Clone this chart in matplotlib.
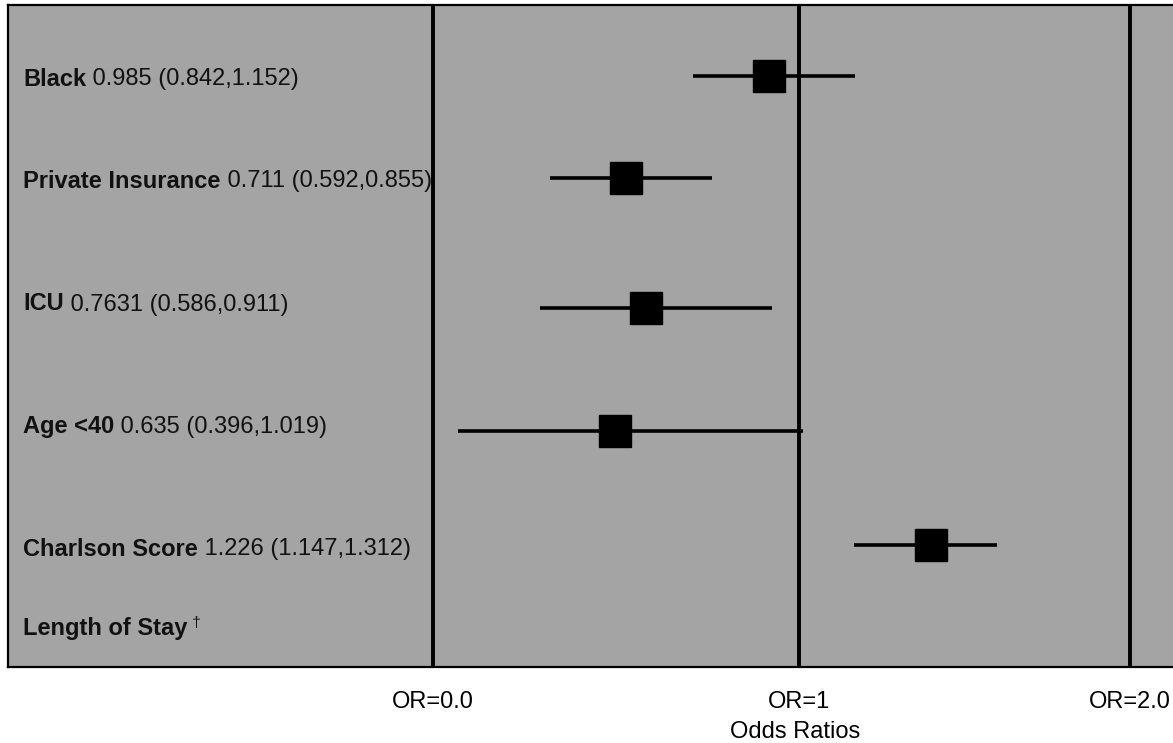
#!/usr/bin/env python3
"""Forest plot of odds ratios (scanned-figure recreation)."""
import numpy as np
import matplotlib
matplotlib.use("Agg")
import matplotlib.pyplot as plt  # noqa: E402

plt.rcParams["font.family"] = ["Liberation Sans", "DejaVu Sans"]

# row names and printed estimates, as written on the figure
names = ["Black", "Private Insurance", "ICU", "Age <40", "Charlson Score", "Length of Stay"]
printed = ["0.985 (0.842,1.152)", "0.711 (0.592,0.855)", "0.7631 (0.586,0.911)",
           "0.635 (0.396,1.019)", "1.226 (1.147,1.312)", ""]

# where the marks sit on the drawn axis
est = [0.918, 0.527, 0.582, 0.497, 1.399]
lo = [0.710, 0.320, 0.292, 0.068, 1.166]
hi = [1.169, 0.762, 0.926, 1.012, 1.598]

ref_lines = [0, 1, 2]
ref_labels = ["OR=0.0", "OR=1", "OR=2.0"]

# layout (vertical row positions, top to bottom)
ROW_Y = [0.76, 1.78, 3.08, 4.31, 5.45]
TEXT_Y = [0.79, 1.81, 3.04, 4.26, 5.49, 6.29]
BG = "#a4a4a4"
FS = 17


def _fwd(x):
    x = np.asarray(x, dtype=float)
    return np.where(x <= 1, x * 366.0, 366.0 + (x - 1) * 331.0)


def _inv(p):
    p = np.asarray(p, dtype=float)
    return np.where(p <= 366.0, p / 366.0, 1 + (p - 366.0) / 331.0)


fig = plt.figure(figsize=(11.73, 7.43), dpi=100)
ax = fig.add_axes([8 / 1173, 76 / 743, 1 - 8 / 1173, 662 / 743])
ax.set_facecolor(BG)
ax.set_xscale("function", functions=(_fwd, _inv))
ax.set_xlim(-1.161, 2.13)
ax.set_ylim(6.67, 0.05)

for x in ref_lines:
    ax.axvline(x, color="black", lw=2.8, zorder=2)

for y, m, a, b in zip(ROW_Y, est, lo, hi):
    ax.plot([a, b], [y, y], color="black", lw=2.6, solid_capstyle="butt", zorder=3)
    ax.plot(m, y, marker="s", ms=23, color="black", zorder=4)

tr = ax.get_yaxis_transform()
for name, txt, y in zip(names, printed, TEXT_Y):
    t1 = ax.text(0.013, y, name, transform=tr, fontsize=FS, fontweight="bold",
                 va="center", ha="left", color="#111111")
    if txt:
        ax.annotate(" " + txt, xy=(1, 0), xycoords=t1, fontsize=FS,
                    va="bottom", ha="left", color="#111111")
    else:
        ax.annotate(" \u2020", xy=(1, 0.45), xycoords=t1, fontsize=11,
                    va="bottom", ha="left", color="#111111")

ax.set_xticks(ref_lines)
ax.set_xticklabels(ref_labels, fontsize=FS)
ax.tick_params(axis="x", length=0, pad=17)
ax.set_yticks([])
ax.set_xlabel("Odds Ratios", fontsize=FS)
ax.xaxis.set_label_coords((795 - 8) / 1165, -0.082)

for side in ("left", "top", "bottom"):
    ax.spines[side].set_linewidth(1.6)
ax.spines["right"].set_visible(False)

fig.savefig("out.png", dpi=100)
